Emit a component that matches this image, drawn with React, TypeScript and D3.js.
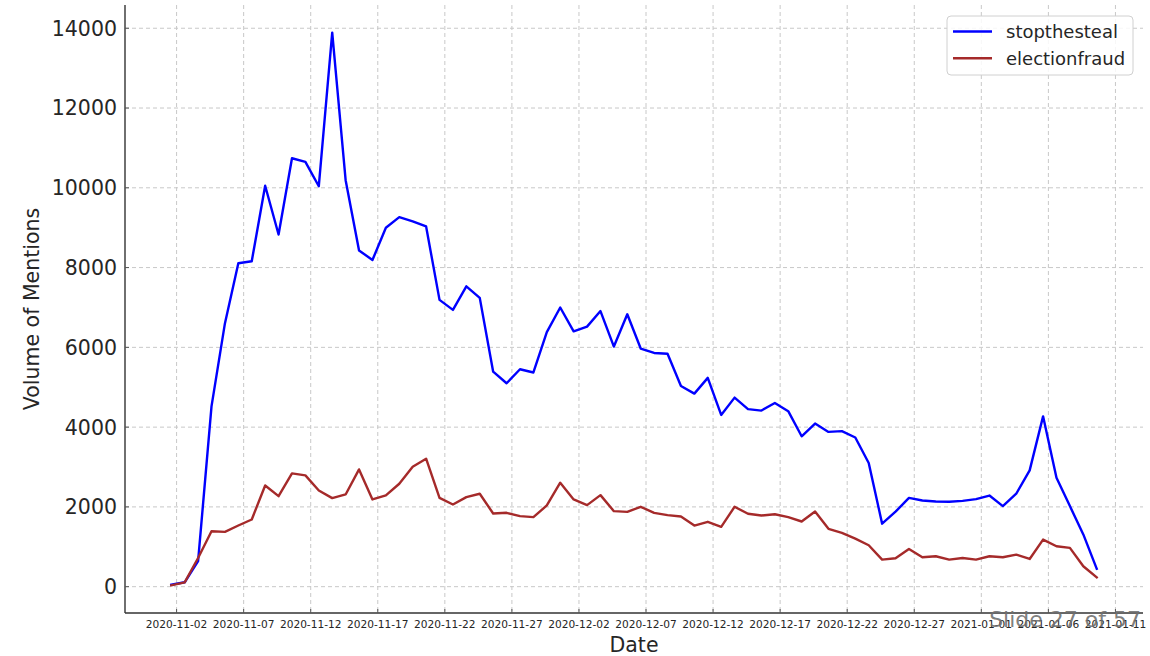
import React from 'react';
import * as d3 from 'd3';

const START_DATE = '2020-11-01T14:30:00Z';

const stopthesteal = [
  50, 110, 640, 4520, 6600, 8110, 8160, 10050, 8830, 10740,
  10650, 10040, 13890, 10190, 8430, 8190, 9000, 9265, 9160, 9030,
  7190, 6940, 7530, 7240, 5390, 5100, 5450, 5370, 6380, 7000,
  6400, 6520, 6910, 6020, 6830, 5970, 5860, 5840, 5030, 4840,
  5235, 4305, 4740, 4450, 4415, 4605, 4400, 3770, 4090, 3880,
  3900, 3740, 3100, 1580, 1880, 2225, 2160, 2135, 2128, 2150,
  2195, 2285, 2020, 2330, 2915, 4270, 2730, 2020, 1310, 450,
];

const electionfraud = [
  33, 108, 720, 1390, 1374, 1533, 1684, 2538, 2270, 2840,
  2790, 2413, 2220, 2312, 2940, 2187, 2287, 2581, 3008, 3209,
  2228, 2061, 2245, 2329, 1835, 1852, 1768, 1743, 2036, 2606,
  2187, 2044, 2295, 1893, 1876, 2003, 1852, 1793, 1759, 1533,
  1626, 1500, 2003, 1827, 1784, 1817, 1743, 1634, 1885, 1450,
  1350, 1206, 1039, 679, 712, 947, 737, 762, 679, 720,
  679, 762, 737, 804, 695, 1181, 1013, 972, 511, 234,
];

const xTickLabels = [
  '2020-11-02', '2020-11-07', '2020-11-12', '2020-11-17', '2020-11-22',
  '2020-11-27', '2020-12-02', '2020-12-07', '2020-12-12', '2020-12-17',
  '2020-12-22', '2020-12-27', '2021-01-01', '2021-01-06', '2021-01-11',
];

const yTicks = [0, 2000, 4000, 6000, 8000, 10000, 12000, 14000];

const seriesNames = ['stopthesteal', 'electionfraud'];
const seriesColors = ['#0000ff', '#a52a2a'];

export default function App() {
  const W = 1150;
  const H = 656;
  const left = 125;
  const right = 1143;
  const top = 5;
  const bottom = 613;
  const font = 'DejaVu Sans, sans-serif';

  const start = new Date(START_DATE);
  const dates = stopthesteal.map((_, i) => d3.utcDay.offset(start, i));

  const [d0, d1] = d3.extent(dates) as [Date, Date];
  const span = +d1 - +d0;
  const x = d3
    .scaleUtc()
    .domain([new Date(+d0 - span * 0.05), new Date(+d1 + span * 0.05)])
    .range([left, right]);

  const allVals = stopthesteal.concat(electionfraud);
  const vMin = d3.min(allVals) as number;
  const vMax = d3.max(allVals) as number;
  const vSpan = vMax - vMin;
  const y = d3
    .scaleLinear()
    .domain([vMin - vSpan * 0.05, vMax + vSpan * 0.05])
    .range([bottom, top]);

  const line = d3
    .line<number>()
    .x((_, i) => x(dates[i]))
    .y((v) => y(v));

  const series = [stopthesteal, electionfraud];
  const parseTick = (s: string) => new Date(s + 'T00:00:00Z');

  return (
    <svg
      width={W}
      height={H}
      style={{ position: 'absolute', left: 0, top: 0, background: '#fff' }}
    >
      <rect x={0} y={0} width={W} height={H} fill="#fff" />
      {/* grid */}
      <g stroke="#c8c8c8" strokeWidth={1} strokeDasharray="4,3">
        {xTickLabels.map((t) => (
          <line
            key={'gx' + t}
            x1={x(parseTick(t))}
            x2={x(parseTick(t))}
            y1={top}
            y2={bottom}
          />
        ))}
        {yTicks.map((t) => (
          <line key={'gy' + t} x1={left} x2={right} y1={y(t)} y2={y(t)} />
        ))}
      </g>

      {/* lines */}
      {series.map((s, k) => (
        <path
          key={seriesNames[k]}
          d={line(s) || ''}
          fill="none"
          stroke={seriesColors[k]}
          strokeWidth={2.4}
          strokeLinejoin="round"
          strokeLinecap="square"
        />
      ))}

      {/* spines */}
      <line x1={left} x2={left} y1={top} y2={bottom} stroke="#333" strokeWidth={1.4} />
      <line x1={left} x2={right} y1={bottom} y2={bottom} stroke="#333" strokeWidth={1.4} />

      {/* x ticks */}
      {xTickLabels.map((t) => {
        const px = x(parseTick(t));
        return (
          <g key={'xt' + t}>
            <line x1={px} x2={px} y1={bottom} y2={bottom - 4} stroke="#555" strokeWidth={1} />
            <text
              x={px}
              y={627.5}
              textAnchor="middle"
              fontFamily={font}
              fontSize={10.6}
              fill="#262626"
            >
              {t}
            </text>
          </g>
        );
      })}

      {/* y ticks */}
      {yTicks.map((t) => (
        <g key={'yt' + t}>
          <line x1={left} x2={left + 4} y1={y(t)} y2={y(t)} stroke="#555" strokeWidth={1} />
          <text
            x={117}
            y={y(t)}
            dy="0.36em"
            textAnchor="end"
            fontFamily={font}
            fontSize={20.5}
            fill="#262626"
          >
            {t}
          </text>
        </g>
      ))}

      {/* axis labels */}
      <text
        x={(left + right) / 2}
        y={652}
        textAnchor="middle"
        fontFamily={font}
        fontSize={20.5}
        fill="#262626"
      >
        Date
      </text>
      <text
        transform={`translate(39,${(top + bottom) / 2}) rotate(-90)`}
        textAnchor="middle"
        fontFamily={font}
        fontSize={20.5}
        fill="#262626"
      >
        Volume of Mentions
      </text>

      {/* legend */}
      <rect
        x={947}
        y={16}
        width={186}
        height={59}
        rx={4}
        fill="#fff"
        fillOpacity={0.85}
        stroke="#d0d0d0"
        strokeWidth={1}
      />
      {seriesNames.map((n, k) => (
        <g key={'lg' + n}>
          <line
            x1={953}
            x2={992}
            y1={31.5 + k * 26.8}
            y2={31.5 + k * 26.8}
            stroke={seriesColors[k]}
            strokeWidth={2.4}
          />
          <text
            x={1006}
            y={31.5 + k * 26.8}
            dy="0.35em"
            fontFamily={font}
            fontSize={18}
            fill="#262626"
          >
            {n}
          </text>
        </g>
      ))}

      {/* slide overlay */}
      <text
        x={1141}
        y={627}
        textAnchor="end"
        fontFamily={font}
        fontSize={22}
        fill="#6e6e6e"
        fillOpacity={0.9}
      >
        Slide 27 of 57
      </text>
    </svg>
  );
}
